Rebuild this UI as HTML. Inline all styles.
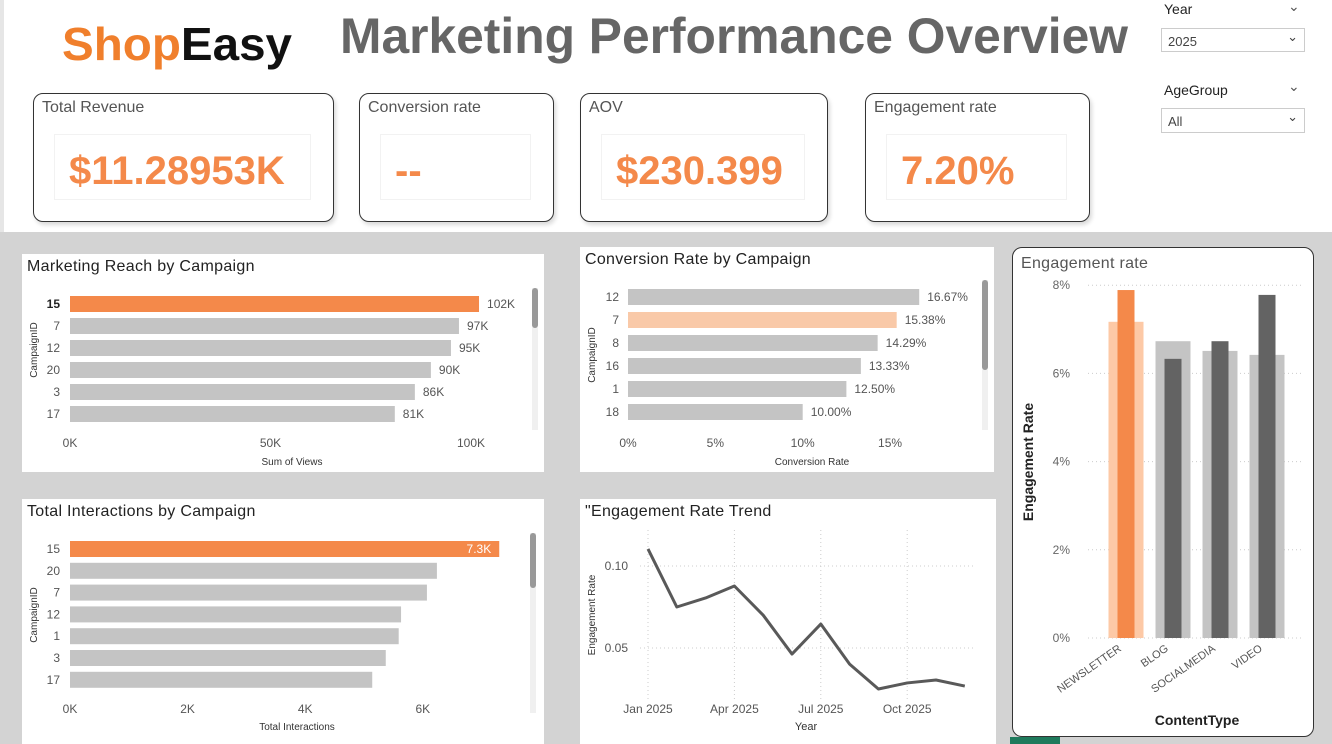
<!DOCTYPE html>
<html><head><meta charset="utf-8"><style>
body{margin:0;width:1332px;height:744px;overflow:hidden;background:#d3d3d3;font-family:"Liberation Sans",sans-serif;position:relative}
.abs{position:absolute}
.card{position:absolute;border:1px solid #333;border-radius:10px;background:#fff;box-shadow:2px 3px 4px rgba(0,0,0,.15)}
.card .lbl{position:absolute;left:8px;top:5px;font-size:16px;color:#555}
.card .inner{position:absolute;left:20px;top:40px;right:22px;height:64px;border:1px solid #f2f2f2}
.card .val{position:absolute;left:14px;top:14px;font-size:40px;color:#f4894a;font-weight:bold}
.panel{position:absolute;background:#fff}
.slic{position:absolute;font-size:14px;color:#222}
.box{position:absolute;border:1px solid #ccc;background:#fff;font-size:13px;color:#444;padding:5px 6px;box-sizing:border-box}
</style></head><body>
<div class="abs" style="left:0;top:0;width:1332px;height:232px;background:#fff;border-left:4px solid #e6e6e6;box-sizing:border-box"></div>
<svg class="abs" style="left:0;top:0" width="1332" height="90">
<text x="62" y="60" font-size="46" font-weight="bold" textLength="230" lengthAdjust="spacingAndGlyphs"><tspan fill="#f07f2c">Shop</tspan><tspan fill="#111">Easy</tspan></text>
<text x="340" y="53" font-size="50" font-weight="bold" fill="#666" textLength="788" lengthAdjust="spacingAndGlyphs">Marketing Performance Overview</text>
</svg>
<div class="card" style="left:33px;top:93px;width:299px;height:127px"><div class="lbl">Total Revenue</div><div class="inner"><div class="val">$11.28953K</div></div></div>
<div class="card" style="left:359px;top:93px;width:193px;height:127px"><div class="lbl">Conversion rate</div><div class="inner"><div class="val">--</div></div></div>
<div class="card" style="left:580px;top:93px;width:246px;height:127px"><div class="lbl">AOV</div><div class="inner"><div class="val">$230.399</div></div></div>
<div class="card" style="left:865px;top:93px;width:223px;height:127px"><div class="lbl">Engagement rate</div><div class="inner"><div class="val">7.20%</div></div></div>
<div class="slic" style="left:1164px;top:1px">Year</div>
<div class="slic" style="left:1288px;top:-2px;color:#555">⌄</div>
<div class="box" style="left:1161px;top:28px;width:144px;height:24px">2025<span style="position:absolute;right:6px;top:0px">⌄</span></div>
<div class="slic" style="left:1164px;top:82px">AgeGroup</div>
<div class="slic" style="left:1288px;top:78px;color:#555">⌄</div>
<div class="box" style="left:1161px;top:108px;width:144px;height:25px">All<span style="position:absolute;right:6px;top:0px">⌄</span></div>

<div class="panel" style="left:22px;top:254px;width:522px;height:218px"></div>
<div class="panel" style="left:580px;top:247px;width:414px;height:225px"></div>
<div class="panel" style="left:22px;top:499px;width:522px;height:245px"></div>
<div class="panel" style="left:580px;top:499px;width:416px;height:245px"></div>
<div class="panel" style="left:1012px;top:247px;width:302px;height:490px;border:1px solid #333;border-radius:10px;box-sizing:border-box"></div>
<div class="abs" style="left:1010px;top:737px;width:50px;height:7px;background:#1f7a5c"></div>

<svg id="ch" class="abs" style="left:0;top:0" width="1332" height="744"></svg>
<script>
const reachCats=['15','7','12','20','3','17'];
const reachVals=[102,97,95,90,86,81];
const reachTicks=[0,50,100];
const convCats=['12','7','8','16','1','18'];
const convVals=[16.67,15.38,14.29,13.33,12.50,10.00];
const convTicks=[0,5,10,15];
const interCats=['15','20','7','12','1','3','17'];
const interVals=[7.3,6.24,6.07,5.63,5.59,5.37,5.14];
const interTicks=[0,2,4,6];
const trendMonths=['Jan','Feb','Mar','Apr','May','Jun','Jul','Aug','Sep','Oct','Nov','Dec'];
const trendVals=[0.1104,0.075,0.0805,0.0878,0.070,0.0463,0.0646,0.0402,0.025,0.0287,0.0305,0.0268];
const trendTickLabels=['Jan 2025','Apr 2025','Jul 2025','Oct 2025'];
const trendYTicks=[0.05,0.10];
const ctCats=['NEWSLETTER','BLOG','SOCIALMEDIA','VIDEO'];
const ctTotal=[7.17,6.73,6.51,6.42];
const ctCurrent=[7.89,6.33,6.73,7.78];
const ctTicks=[0,2,4,6,8];

const svg=document.getElementById('ch');const NS='http://www.w3.org/2000/svg';
function mk(t,a,txt){const e=document.createElementNS(NS,t);for(const k in a)e.setAttribute(k,a[k]);if(txt!==undefined)e.textContent=txt;svg.appendChild(e);return e;}
function title(x,y,s,n,c){const e=mk('text',{x:x,y:y,'font-size':16,fill:c||'#222','letter-spacing':'0.3'},s);}
function small(x,y,s,anchor,n,extra){const a={x:x,y:y,'font-size':12,fill:'#555','text-anchor':anchor};Object.assign(a,extra||{});const e=mk('text',a,s);return e;}

// Reach
title(27,271,'Marketing Reach by Campaign','reach-title');
const rx=v=>70+v*4.01;
reachCats.forEach((c,i)=>{const y=304+i*22;
 const b=mk('rect',{x:70,y:y-8,width:rx(reachVals[i])-70,height:16,fill:i==0?'#f4894a':'#c4c4c4'});
 
 small(60,y+4,c,'end','reach-category-label',i==0?{'font-weight':'bold',fill:'#222'}:{});
 small(rx(reachVals[i])+8,y+4,reachVals[i]+'K','start','reach-value-label');});
reachTicks.forEach(t=>small(rx(t),447,t+'K','middle','reach-x-tick'));
small(292,465,'Sum of Views','middle','reach-x-title',{'font-size':10,fill:'#333'});
small(37,350,'CampaignID','middle','reach-y-title',{'font-size':10,fill:'#333',transform:'rotate(-90 37 350)'});
mk('rect',{x:532,y:288,width:6,height:142,fill:'#f0f0f0'});mk('rect',{x:532,y:288,width:6,height:40,fill:'#999',rx:3});

// Conversion
title(585,264,'Conversion Rate by Campaign','conversion-title');
const cx=v=>628+v*17.47;
convCats.forEach((c,i)=>{const y=297+i*23;
 const b=mk('rect',{x:628,y:y-8,width:cx(convVals[i])-628,height:16,fill:i==1?'#f9c9a8':'#c4c4c4'});
 
 small(619,y+4,c,'end','conversion-category-label');
 small(cx(convVals[i])+8,y+4,convVals[i].toFixed(2)+'%','start','conversion-value-label');});
convTicks.forEach(t=>small(cx(t),447,t+'%','middle','conversion-x-tick'));
small(812,465,'Conversion Rate','middle','conversion-x-title',{'font-size':10,fill:'#333'});
small(595,355,'CampaignID','middle','conversion-y-title',{'font-size':10,fill:'#333',transform:'rotate(-90 595 355)'});
mk('rect',{x:982,y:280,width:6,height:150,fill:'#f0f0f0'});mk('rect',{x:982,y:280,width:6,height:90,fill:'#999',rx:3});

// Interactions
title(27,516,'Total Interactions by Campaign','interactions-title');
const ix=v=>70+v*58.8;
interCats.forEach((c,i)=>{const y=549+i*21.8;
 const b=mk('rect',{x:70,y:y-8,width:ix(interVals[i])-70,height:16,fill:i==0?'#f4894a':'#c4c4c4'});
 
 small(60,y+4,c,'end','interactions-category-label');
 if(i==0)small(ix(interVals[i])-8,y+4,interVals[i]+'K','end','interactions-value-label',{fill:'#fff'});});
interTicks.forEach(t=>small(ix(t),713,t+'K','middle','interactions-x-tick'));
small(297,730,'Total Interactions','middle','interactions-x-title',{'font-size':10,fill:'#333'});
small(37,615,'CampaignID','middle','interactions-y-title',{'font-size':10,fill:'#333',transform:'rotate(-90 37 615)'});
mk('rect',{x:530,y:533,width:6,height:180,fill:'#f0f0f0'});mk('rect',{x:530,y:533,width:6,height:55,fill:'#999',rx:3});

// Trend
title(585,516,'"Engagement Rate Trend','trend-title');
const tx=i=>648+i*28.8, ty=v=>730-v*1640;
trendYTicks.forEach(t=>{mk('line',{x1:640,x2:975,y1:ty(t),y2:ty(t),stroke:'#ccc','stroke-dasharray':'1 3'});small(628,ty(t)+4,t.toFixed(2),'end','trend-y-tick');});
trendTickLabels.forEach((s,k)=>{const x=tx(k*3);mk('line',{x1:x,x2:x,y1:530,y2:700,stroke:'#ccc','stroke-dasharray':'1 3'});small(x,713,s,'middle','trend-x-tick');});
const ln=mk('polyline',{points:trendVals.map((v,i)=>tx(i)+','+ty(v)).join(' '),fill:'none',stroke:'#595959','stroke-width':3,'stroke-linejoin':'round'});

small(806,730,'Year','middle','trend-x-title',{'font-size':11,fill:'#333'});
small(595,615,'Engagement Rate','middle','trend-y-title',{'font-size':10,fill:'#333',transform:'rotate(-90 595 615)'});

// Content type
title(1021,268,'Engagement rate','content-title','#555');
const gy=v=>638-v*44.1, gx=i=>1126+i*47;
ctTicks.forEach(t=>{mk('line',{x1:1088,x2:1303,y1:gy(t),y2:gy(t),stroke:'#ccc','stroke-dasharray':'1 3'});small(1070,gy(t)+4,t+'%','end','content-y-tick',{'font-size':12,fill:'#666'});});
ctCats.forEach((c,i)=>{
 const a=mk('rect',{x:gx(i)-17.5,y:gy(ctTotal[i]),width:35,height:gy(0)-gy(ctTotal[i]),fill:i==0?'#fdc9a6':'#c4c4c4'});
 
 const b=mk('rect',{x:gx(i)-8.5,y:gy(ctCurrent[i]),width:17,height:gy(0)-gy(ctCurrent[i]),fill:i==0?'#f4894a':'#636363'});
 
 small(gx(i)-4,650,c,'end','content-category-label',{'font-size':11,fill:'#555',transform:'rotate(-35 '+(gx(i)-4)+' 650)'});});
small(1033,462,'Engagement Rate','middle','content-y-title',{'font-size':14,fill:'#222','font-weight':'bold',transform:'rotate(-90 1033 462)'});
small(1197,725,'ContentType','middle','content-x-title',{'font-size':14,fill:'#222','font-weight':'bold'});
</script>
</body></html>
